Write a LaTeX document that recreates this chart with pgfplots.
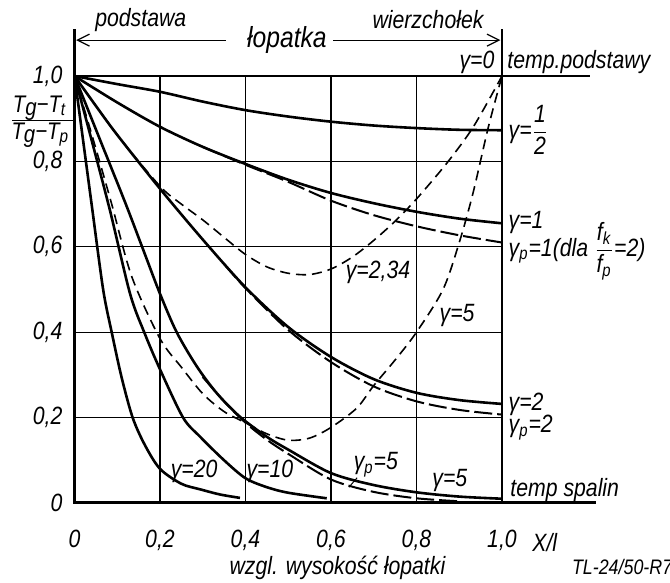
\documentclass[border=0pt]{standalone}
\usepackage{fontspec}
\setmainfont{Liberation Sans}[FakeStretch=0.85]
\usepackage{pgfplots}
\pgfplotsset{compat=1.18}
\usetikzlibrary{arrows.meta}

\pgfplotstableread{
x y
0 1
0.1 0.981
0.2 0.963
0.3 0.940
0.4 0.920
0.5 0.905
0.6 0.893
0.7 0.884
0.8 0.878
0.9 0.874
1.0 0.873
}\ghalf
\pgfplotstableread{
x y
0 1
0.1 0.938
0.2 0.881
0.3 0.834
0.4 0.794
0.5 0.757
0.6 0.726
0.7 0.702
0.8 0.682
0.9 0.666
1.0 0.655
}\gone
\pgfplotstableread{
x y
0.3 0.834
0.4 0.792
0.5 0.752
0.6 0.708
0.7 0.674
0.8 0.648
0.9 0.627
1.0 0.610
}\gpone
\pgfplotstableread{
x y
0 1
0.05 0.93
0.1 0.862
0.2 0.736
0.3 0.617
0.4 0.505
0.5 0.412
0.6 0.342
0.7 0.290
0.8 0.258
0.9 0.241
1.0 0.232
}\gtwo
\pgfplotstableread{
x y
0.35 0.56
0.4 0.503
0.5 0.405
0.6 0.330
0.7 0.273
0.8 0.238
0.9 0.218
1.0 0.207
}\gptwo
\pgfplotstableread{
x y
0 1
0.1 0.862
0.2 0.742
0.25 0.700
0.3 0.663
0.35 0.622
0.4 0.582
0.45 0.553
0.5 0.538
0.55 0.535
0.6 0.548
0.65 0.576
0.7 0.615
0.75 0.660
0.8 0.712
0.871 0.796
0.933 0.881
1.0 1.0
}\gsym
\pgfplotstableread{
x y
0 1
0.05 0.83
0.087 0.70
0.134 0.53
0.2 0.385
0.25 0.318
0.3 0.256
0.35 0.214
0.4 0.188
0.45 0.162
0.5 0.147
0.55 0.152
0.6 0.177
0.66 0.222
0.7 0.275
0.75 0.335
0.8 0.400
0.862 0.500
0.9 0.610
0.932 0.725
0.968 0.880
1.0 1.0
}\gsymfive
\pgfplotstableread{
x y
0 1
0.06 0.85
0.12 0.70
0.16 0.595
0.2 0.49
0.239 0.40
0.286 0.32
0.333 0.257
0.387 0.202
0.45 0.155
0.5 0.125
0.6 0.070
0.7 0.042
0.8 0.025
0.9 0.015
1.0 0.010
}\gfive
\pgfplotstableread{
x y
0.3 0.295
0.35 0.238
0.4 0.188
0.45 0.148
0.5 0.115
0.6 0.055
0.7 0.026
0.8 0.011
0.9 0.004
}\gpfive
\pgfplotstableread{
x y
0 1
0.04 0.85
0.083 0.685
0.13 0.49
0.163 0.40
0.2 0.313
0.254 0.20
0.294 0.155
0.35 0.10
0.4 0.058
0.45 0.037
0.5 0.024
0.59 0.011
}\gten
\pgfplotstableread{
x y
0 1
0.02 0.85
0.04 0.70
0.067 0.50
0.087 0.40
0.11 0.295
0.136 0.20
0.165 0.135
0.2 0.080
0.25 0.045
0.294 0.032
0.34 0.020
0.387 0.012
}\gtwenty

\begin{document}
\begin{tikzpicture}
\begin{axis}[
  scale only axis, width=213.75pt, height=213.5pt,
  xmin=0, xmax=1, ymin=0, ymax=1,
  axis line style={draw=none},
  major tick length=0pt,
  grid=major,
  grid style={black, line width=0.6pt},
  xtick={0,0.2,0.4,0.6,0.8,1},
  ytick={0,0.2,0.4,0.6,0.8,1},
  xticklabels={0,{0,2},{0,4},{0,6},{0,8},{1,0}},
  yticklabels={\raisebox{-7pt}{0},{0,2},{0,4},{0,6},{0,8},{1,0}},
  xticklabel style={font=\fontsize{12.5}{12.5}\selectfont\itshape, yshift=-10pt},
  yticklabel style={font=\fontsize{12.5}{12.5}\selectfont\itshape, xshift=-2.5pt},
  clip=false,
  every axis plot/.append style={black},
]
% frame lines
\draw[line width=1.5pt] (axis cs:0,1.11) -- (axis cs:0,0) -- (axis cs:1.22,0);
\draw[line width=1pt] (axis cs:1,0) -- (axis cs:1,1.11);
\draw[line width=0.8pt] (axis cs:0,1) -- (axis cs:1.206,1);
% curves
\addplot[line width=1.3pt, smooth] table {\ghalf};
\addplot[line width=1.3pt, smooth] table {\gone};
\addplot[line width=1pt, smooth, dash pattern=on 9pt off 2.5pt] table {\gpone};
\addplot[line width=1.3pt, smooth] table {\gtwo};
\addplot[line width=1pt, smooth, dash pattern=on 9pt off 2.5pt] table {\gptwo};
\addplot[line width=0.8pt, smooth, dash pattern=on 5pt off 3pt] table {\gsym};
\addplot[line width=0.8pt, smooth, dash pattern=on 5pt off 3pt] table {\gsymfive};
\addplot[line width=1.3pt, smooth] table {\gfive};
\addplot[line width=1pt, smooth, dash pattern=on 9pt off 2.5pt] table {\gpfive};
\addplot[line width=1.3pt, smooth] table {\gten};
\addplot[line width=1.3pt, smooth] table {\gtwenty};
% annotations
\begin{scope}[every node/.style={font=\fontsize{12.5}{14}\selectfont\itshape, inner sep=1pt}]
\node at (axis cs:0.155,1.131) {podstawa};
\node[font=\fontsize{14.5}{16}\selectfont\itshape] at (axis cs:0.497,1.084) {łopatka};
\node at (axis cs:0.827,1.131) {wierzchołek};
\node[anchor=east] at (axis cs:0.988,1.033) {γ=0};
\node[anchor=west] at (axis cs:1.007,1.033) {temp.podstawy};
\node[anchor=west] at (axis cs:1.010,0.874) {γ=$\displaystyle\frac{\mbox{1}}{\mbox{2}}$};
\node[anchor=west] at (axis cs:1.010,0.656) {γ=1};
\node[anchor=west] at (axis cs:1.010,0.590) {γ\textsubscript{p}=1(dla $\displaystyle\frac{\mbox{f\textsubscript{k}}}{\mbox{f\textsubscript{p}}}$=2)};
\node[anchor=west] at (axis cs:1.010,0.230) {γ=2};
\node[anchor=west] at (axis cs:1.010,0.176) {γ\textsubscript{p}=2};
\node[anchor=west] at (axis cs:1.014,0.030) {temp spalin};
\node at (axis cs:0.710,0.541) {γ=2,34};
\node at (axis cs:0.895,0.438) {γ=5};
\node at (axis cs:0.280,0.073) {γ=20};
\node at (axis cs:0.457,0.073) {γ=10};
\node at (axis cs:0.705,0.090) {γ\textsubscript{p}=5};
\node at (axis cs:0.878,0.052) {γ=5};
\node at (axis cs:1.100,-0.093) {X/l};
\node at (axis cs:0.615,-0.153) {wzgl. wysokość łopatki};
\node[font=\fontsize{10.5}{12}\selectfont\itshape] at (axis cs:1.281,-0.150) {TL-24/50-R7};
\node[font=\fontsize{12}{13}\selectfont\itshape] at (axis cs:-0.083,0.924) {T\raisebox{-1.5pt}{g}−T\raisebox{-1.5pt}{\small t}};
\node[font=\fontsize{12}{13}\selectfont\itshape] at (axis cs:-0.081,0.862) {T\raisebox{-1.5pt}{g}−T\raisebox{-1.5pt}{\small p}};
\end{scope}
\draw[line width=0.6pt] (axis cs:-0.146,0.896) -- (axis cs:0,0.896);
\draw[line width=0.5pt] (axis cs:0.661,0.059) -- (axis cs:0.642,0.037);
\draw[line width=0.6pt, -{Straight Barb[length=6pt,width=6pt]}] (axis cs:0.354,1.084) -- (axis cs:0.004,1.084);
\draw[line width=0.6pt, -{Straight Barb[length=6pt,width=6pt]}] (axis cs:0.605,1.084) -- (axis cs:0.996,1.084);
\end{axis}
\pgfresetboundingbox
\useasboundingbox (-37.25pt,-40pt) rectangle (297.75pt,251.5pt);
\end{tikzpicture}
\end{document}
